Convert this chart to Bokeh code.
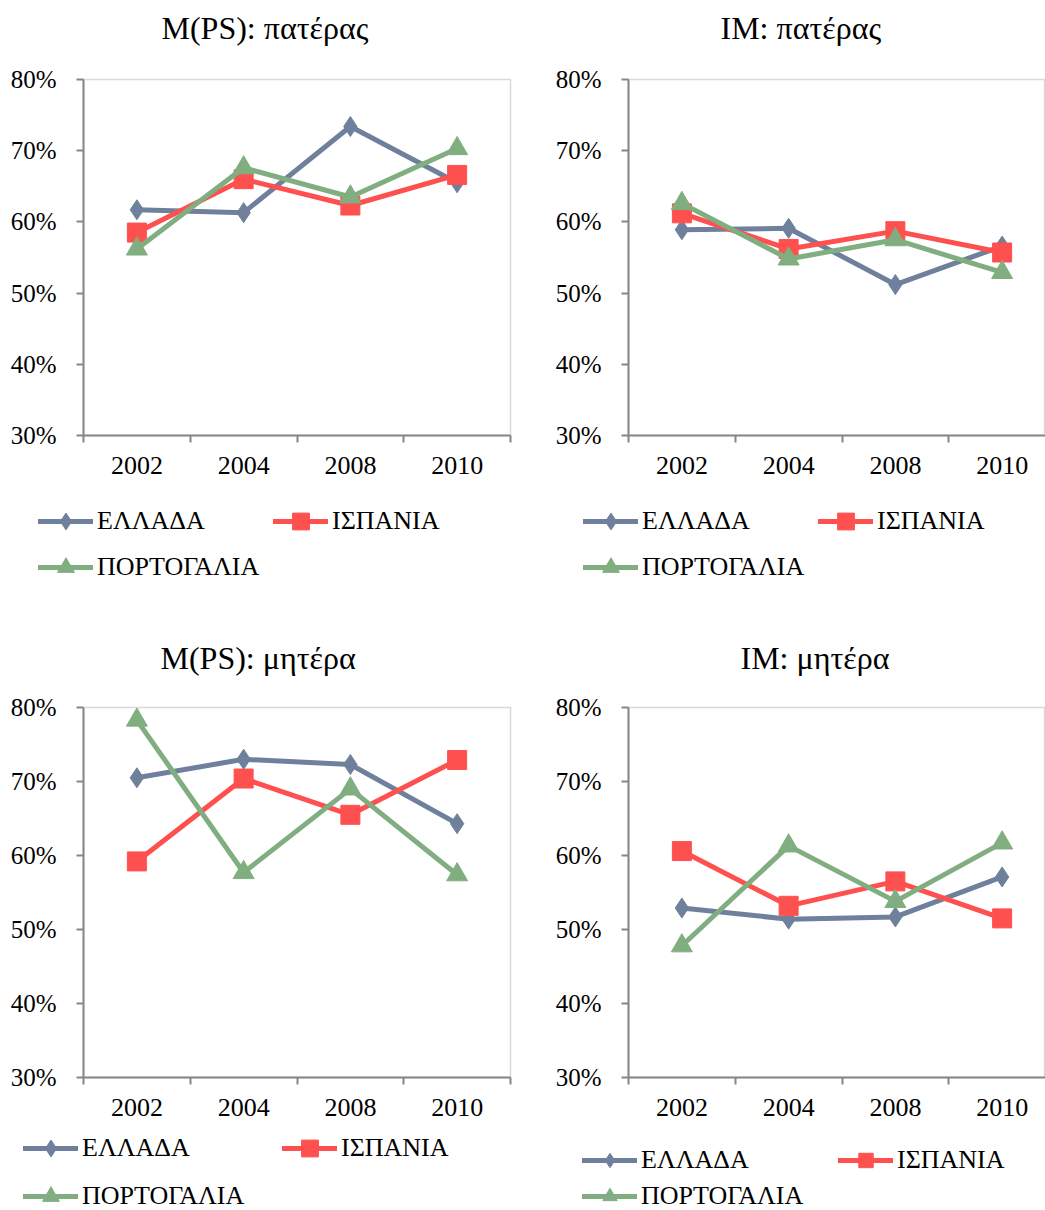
from bokeh.plotting import figure
from bokeh.models import Range1d, FixedTicker, NumeralTickFormatter, Legend, LegendItem, Title
from bokeh.layouts import column, row
from bokeh.embed import file_html
from bokeh.resources import INLINE

years = ["2002", "2004", "2008", "2010"]
countries = ["ΕΛΛΑΔΑ", "ΙΣΠΑΝΙΑ", "ΠΟΡΤΟΓΑΛΙΑ"]
y_ticks_pct = [30, 40, 50, 60, 70, 80]

# M(PS): father
mps_father_gr = [61.7, 61.3, 73.4, 65.5]
mps_father_es = [58.5, 66.0, 62.3, 66.6]
mps_father_pt = [56.2, 67.6, 63.5, 70.3]
# IM: father
im_father_gr = [58.9, 59.1, 51.2, 56.6]
im_father_es = [61.2, 56.2, 58.7, 55.7]
im_father_pt = [62.6, 54.8, 57.5, 52.9]
# M(PS): mother
mps_mother_gr = [70.5, 73.0, 72.3, 64.3]
mps_mother_es = [59.2, 70.4, 65.5, 72.9]
mps_mother_pt = [78.3, 57.7, 69.0, 57.4]
# IM: mother
im_mother_gr = [52.9, 51.4, 51.7, 57.1]
im_mother_es = [60.6, 53.2, 56.5, 51.5]
im_mother_pt = [47.8, 61.3, 53.8, 61.7]

COLORS = ["#6E809B", "#FF5050", "#80AE80"]
MARKERS = ["diamond", "square", "triangle"]
SIZES = [20, 19, 21]
FONT = "Liberation Serif"
AXIS_GRAY = "#868686"
CENTERS = [i + 0.5 for i in range(len(years))]


def make_plot(title, series, width, height, mb_left, mb_right, mb_top, mb_bottom,
              x_end, title_offset, title_gap):
    p = figure(width=width, height=height, output_backend="svg", toolbar_location=None,
               x_range=Range1d(0, x_end),
               y_range=Range1d(y_ticks_pct[0] / 100, y_ticks_pct[-1] / 100))
    p.min_border_left = mb_left
    p.min_border_right = mb_right
    p.min_border_top = mb_top
    p.min_border_bottom = mb_bottom
    p.background_fill_color = "white"
    p.border_fill_color = "white"
    p.outline_line_color = "#D9D9D9"
    p.outline_line_width = 1.5
    p.xgrid.grid_line_color = None
    p.ygrid.grid_line_color = None

    # spacer between frame and title, then the title itself
    p.add_layout(Title(text=" ", text_font_size="1px", standoff=title_gap), "above")
    p.add_layout(Title(text=title, align="left", offset=title_offset, text_font=FONT,
                       text_font_size="32px", text_font_style="normal", text_color="black",
                       standoff=0), "above")

    bounds = [float(i) for i in range(len(years) + 1)]

    xa = p.xaxis[0]
    xa.ticker = FixedTicker(ticks=CENTERS, minor_ticks=bounds)
    xa.major_label_overrides = {c: y for c, y in zip(CENTERS, years)}
    xa.major_tick_out = 0
    xa.major_tick_in = 0
    xa.minor_tick_out = 7
    xa.minor_tick_in = 0
    xa.minor_tick_line_color = AXIS_GRAY
    xa.minor_tick_line_width = 2
    xa.axis_line_color = AXIS_GRAY
    xa.axis_line_width = 2
    xa.major_label_text_font = FONT
    xa.major_label_text_font_size = "26px"
    xa.major_label_text_color = "black"
    xa.major_label_standoff = 14

    ya = p.yaxis[0]
    ya.ticker = FixedTicker(ticks=[v / 100 for v in y_ticks_pct], minor_ticks=[])
    ya.formatter = NumeralTickFormatter(format="0%")
    ya.major_tick_out = 7
    ya.major_tick_in = 0
    ya.major_tick_line_color = AXIS_GRAY
    ya.major_tick_line_width = 2
    ya.minor_tick_line_color = None
    ya.axis_line_color = AXIS_GRAY
    ya.axis_line_width = 2
    ya.major_label_text_font = FONT
    ya.major_label_text_font_size = "25px"
    ya.major_label_text_color = "black"
    ya.major_label_standoff = 20

    for vals, col, mk, sz in zip(series, COLORS, MARKERS, SIZES):
        yv = [v / 100 for v in vals]
        p.line(CENTERS, yv, line_color=col, line_width=5, line_join="round", line_cap="round")
        p.scatter(CENTERS, yv, marker=mk, size=sz, fill_color=col, line_color=col, line_width=1)
    return p


def make_legend(series, width, height, loc, glyph_h, leg_spacing, label_w):
    # legend-only figure: same series, ranges chosen so that no mark falls in view
    lf = figure(width=width, height=height, output_backend="svg", toolbar_location=None,
                x_axis_type=None, y_axis_type=None,
                x_range=Range1d(-20, -19), y_range=Range1d(-20, -19))
    lf.min_border = 0
    lf.min_border_left = 0
    lf.min_border_right = 0
    lf.min_border_top = 0
    lf.min_border_bottom = 0
    lf.outline_line_color = None
    lf.background_fill_color = "white"
    lf.border_fill_color = "white"
    items = []
    for name, vals, col, mk in zip(countries, series, COLORS, MARKERS):
        yv = [v / 100 for v in vals]
        lr = lf.line(CENTERS, yv, line_color=col, line_width=5, line_join="round", line_cap="round")
        sr = lf.scatter(CENTERS, yv, marker=mk, fill_color=col, line_color=col, line_width=1)
        items.append(LegendItem(label=name, renderers=[lr, sr]))
    leg = Legend(items=items, orientation="horizontal", ncols=2, location=loc,
                 glyph_width=55, glyph_height=glyph_h, label_standoff=4, spacing=leg_spacing,
                 label_width=label_w,
                 padding=0, margin=0, border_line_color=None, background_fill_alpha=0,
                 label_text_font=FONT, label_text_font_size="26px", label_text_color="black")
    lf.add_layout(leg, "center")
    return lf


s1 = [mps_father_gr, mps_father_es, mps_father_pt]
s2 = [im_father_gr, im_father_es, im_father_pt]
s3 = [mps_mother_gr, mps_mother_es, mps_mother_pt]
s4 = [im_mother_gr, im_mother_es, im_mother_pt]

p1 = make_plot("M(PS): πατέρας", s1, 540, 490, 83, 30, 79, 55, 4.0, 78, 31)
p2 = make_plot("IM: πατέρας", s2, 505, 490, 88, 0, 79, 55, 417 / 106.75, 92, 31)
p3 = make_plot("M(PS): μητέρα", s3, 540, 500, 83, 30, 77, 53, 4.0, 77, 29)
p4 = make_plot("IM: μητέρα", s4, 505, 500, 88, 0, 77, 53, 417 / 106.75, 112, 29)

l1 = make_legend(s1, 540, 140, (38, 42), 42, 4, 172)
l2 = make_legend(s2, 505, 140, (43, 42), 42, 4, 172)
l3 = make_legend(s3, 540, 80, (23, -7), 42, 6, 194)
l4 = make_legend(s4, 505, 80, (42, -4), 36, 0, 197)

layout = column(
    row(p1, p2, spacing=0),
    row(l1, l2, spacing=0),
    row(p3, p4, spacing=0),
    row(l3, l4, spacing=0),
    spacing=0)

with open("out.html", "w") as f:
    f.write(file_html(layout, INLINE))
